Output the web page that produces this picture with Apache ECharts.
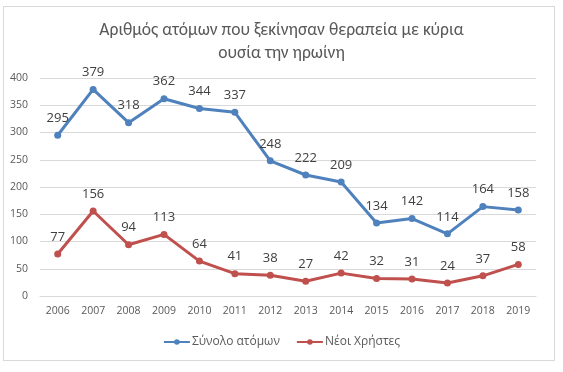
<!DOCTYPE html>
<html><head><meta charset="utf-8">
<script src="https://cdn.jsdelivr.net/npm/echarts@6/dist/echarts.min.js"></script>
<style>html,body{margin:0;padding:0;background:#fff}
#frame{position:absolute;left:3px;top:6px;width:552px;height:355px;border:1px solid #d9d9d9;box-sizing:border-box}
#c{position:absolute;left:0;top:0;width:563px;height:372px}</style>
</head><body><div id="frame"></div><div id="c"></div>
<script>
const years = ['2006','2007','2008','2009','2010','2011','2012','2013','2014','2015','2016','2017','2018','2019'];
const totalPeople = [295,379,318,362,344,337,248,222,209,134,142,114,164,158];
const newUsers = [77,156,94,113,64,41,38,27,42,32,31,24,37,58];
const seriesNames = ['Σύνολο ατόμων','Νέοι Χρήστες'];
const titleText = 'Αριθμός ατόμων που ξεκίνησαν θεραπεία με κύρια\nουσία την ηρωίνη';
const font = '"Open Sans", "DejaVu Sans", sans-serif';
const tfont = 'Calibri, Carlito, "Open Sans", sans-serif';
const chart = echarts.init(document.getElementById('c'));
function mk(name, data, color){
  return {name, type:'line', data, symbol:'circle', symbolSize:7,
    lineStyle:{width:3,color}, itemStyle:{color},
    label:{show:true, position:'top', distance:7, color:'#404040', fontSize:13, fontFamily:font}};
}
chart.setOption({
  animation:false,
  title:{text:titleText, left:'center', top:14, textStyle:{fontSize:17.5, fontWeight:'normal', color:'#595959', fontFamily:tfont, lineHeight:23}},
  grid:{left:40, right:27, top:78, bottom:76},
  xAxis:{type:'category', data:years, boundaryGap:true,
    axisLine:{lineStyle:{color:'#d9d9d9'}}, axisTick:{show:false},
    axisLabel:{color:'#595959', fontSize:10.5, fontFamily:font, margin:10}},
  yAxis:{type:'value', min:0, max:400, interval:50,
    axisLine:{show:false}, axisTick:{show:false},
    splitLine:{lineStyle:{color:'#d9d9d9'}},
    axisLabel:{color:'#595959', fontSize:10.5, fontFamily:font, margin:12}},
  legend:{bottom:19, left:'center', itemWidth:26, itemHeight:7, itemGap:16,
    textStyle:{color:'#595959', fontSize:12, fontFamily:font, padding:[0,0,0,-3]}},
  series:[mk(seriesNames[0], totalPeople, '#4f81bd'), mk(seriesNames[1], newUsers, '#c0504d')]
});
</script></body></html>
